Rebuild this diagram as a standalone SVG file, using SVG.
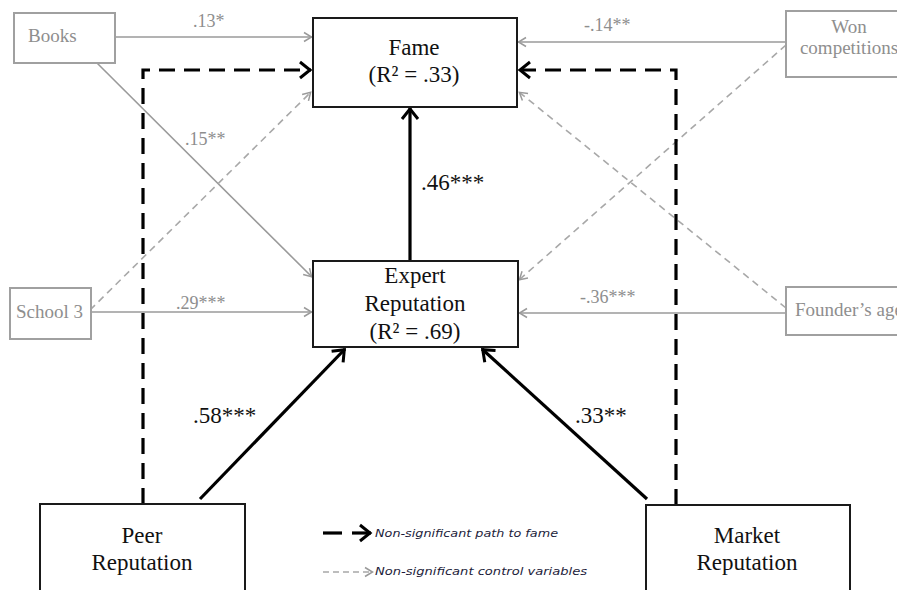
<svg xmlns="http://www.w3.org/2000/svg" width="897" height="590" viewBox="0 0 897 590">
<style>
.bk{fill:#fff;stroke:#1a1a1a;stroke-width:2}
.gb{fill:#fff;stroke:#a0a0a0;stroke-width:2}
.bt{font-family:"Liberation Serif",serif;font-size:23px;fill:#111;text-anchor:middle}
.gt{font-family:"Liberation Serif",serif;font-size:19px;fill:#8e8e8e}
.gl{font-family:"Liberation Serif",serif;font-size:18px;fill:#8e8e8e}
.bl{font-family:"Liberation Serif",serif;font-size:23px;fill:#111}
.lg{font-family:"DejaVu Sans",sans-serif;font-size:10.5px;font-style:italic;fill:#1c1c3a}
.gs{fill:none;stroke:#9a9a9a;stroke-width:1.6}
.gd{fill:none;stroke:#a8a8a8;stroke-width:1.6;stroke-dasharray:7 5}
.bs{fill:none;stroke:#000;stroke-width:3.2}
.bd{fill:none;stroke:#000;stroke-width:3.2;stroke-dasharray:16 9}
</style>
<defs>
<marker id="ab" viewBox="-16 -10 18 20" refX="0" refY="0" markerWidth="18" markerHeight="20" markerUnits="userSpaceOnUse" orient="auto"><path d="M-11,-8 L-1,0 L-11,8" fill="none" stroke="#000" stroke-width="3"/></marker>
<marker id="ag" viewBox="-10 -6 12 12" refX="0" refY="0" markerWidth="12" markerHeight="12" markerUnits="userSpaceOnUse" orient="auto"><path d="M-8,-4.5 L-0.5,0 L-8,4.5" fill="none" stroke="#9a9a9a" stroke-width="1.5"/></marker>
</defs>
<rect width="897" height="590" fill="#fff"/>
<g id="connectors">
<line class="gs" x1="115" y1="37" x2="312" y2="37" marker-end="url(#ag)"/>
<line class="gs" x1="97" y1="63" x2="312" y2="277" marker-end="url(#ag)"/>
<line class="gd" x1="90" y1="310" x2="311" y2="92" marker-end="url(#ag)"/>
<line class="gs" x1="91" y1="312" x2="312" y2="312" marker-end="url(#ag)"/>
<line class="gs" x1="786" y1="42" x2="518" y2="42" marker-end="url(#ag)"/>
<line class="gd" x1="786" y1="45" x2="519" y2="280" marker-end="url(#ag)"/>
<line class="gd" x1="786" y1="308" x2="519" y2="92" marker-end="url(#ag)"/>
<line class="gs" x1="786" y1="313" x2="519" y2="313" marker-end="url(#ag)"/>
<line class="bs" x1="410" y1="261" x2="410" y2="108" marker-end="url(#ab)"/>
<line class="bs" x1="200" y1="499" x2="345" y2="349" marker-end="url(#ab)"/>
<line class="bs" x1="647" y1="499" x2="482" y2="349" marker-end="url(#ab)"/>
<polyline class="bd" points="143,504 143,70 311,70" marker-end="url(#ab)"/>
<polyline class="bd" points="676,505 676,70 519,70" marker-end="url(#ab)"/>
<text class="gl" x="193" y="27">.13*</text>
<text class="gl" x="185" y="145">.15**</text>
<text class="gl" x="176" y="309">.29***</text>
<text class="gl" x="584" y="31">-.14**</text>
<text class="gl" x="580" y="303">-.36***</text>
<text class="bl" x="421" y="190">.46***</text>
<text class="bl" x="193" y="423">.58***</text>
<text class="bl" x="575" y="423">.33**</text>
</g>
<g id="fame"><rect class="bk" x="313" y="18" width="204" height="89"/><text class="bt" x="414" y="55">Fame</text><text class="bt" x="414" y="82">(R² = .33)</text></g>
<g id="expert"><rect class="bk" x="313" y="261" width="205" height="86"/><text class="bt" x="415" y="283">Expert</text><text class="bt" x="415" y="311">Reputation</text><text class="bt" x="415" y="339">(R² = .69)</text></g>
<g id="books"><rect class="gb" x="14" y="13" width="101" height="50"/><text class="gt" x="28" y="42">Books</text></g>
<g id="school3"><rect class="gb" x="10" y="288" width="81" height="51"/><text class="gt" x="16" y="318">School 3</text></g>
<g id="won"><rect class="gb" x="786" y="11" width="130" height="66"/><text class="gt" x="849" y="33" text-anchor="middle">Won</text><text class="gt" x="849" y="54" text-anchor="middle">competitions</text></g>
<g id="founder"><rect class="gb" x="786" y="287" width="130" height="48"/><text class="gt" x="795" y="316">Founder’s age</text></g>
<g id="peer"><rect class="bk" x="40" y="504" width="205" height="110"/><text class="bt" x="142" y="543">Peer</text><text class="bt" x="142" y="570">Reputation</text></g>
<g id="market"><rect class="bk" x="646" y="505" width="204" height="110"/><text class="bt" x="747" y="543">Market</text><text class="bt" x="747" y="570">Reputation</text></g>
<g id="legend">
<line x1="323" y1="533" x2="342" y2="533" stroke="#000" stroke-width="3.2"/>
<line x1="352" y1="533" x2="371" y2="533" stroke="#000" stroke-width="3.2" marker-end="url(#ab)"/>
<text class="lg" x="375" y="537" textLength="183" lengthAdjust="spacingAndGlyphs">Non-significant path to fame</text>
<line class="gd" x1="323" y1="572" x2="373" y2="572" style="stroke-dasharray:6 4" marker-end="url(#ag)"/>
<text class="lg" x="375" y="575" textLength="212" lengthAdjust="spacingAndGlyphs">Non-significant control variables</text>
</g>
</svg>
